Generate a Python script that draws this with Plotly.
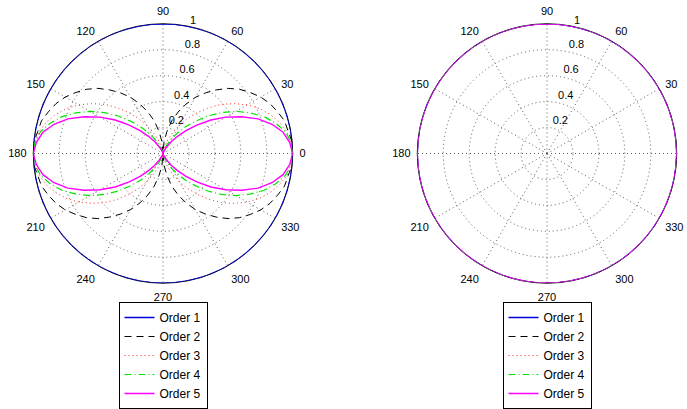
import copy
import plotly.graph_objects as go

# Radius of each pattern over one quadrant, every 5 degrees from 0 to 90.
QUADRANT_DEG = [0, 5, 10, 15, 20, 25, 30, 35, 40, 45, 50, 55, 60, 65, 70, 75, 80, 85, 90]

LEFT_ORDER1 = [1.00] * 19
LEFT_ORDER2 = [1.00, 1.00, 0.98, 0.97, 0.94, 0.91, 0.87, 0.82, 0.77, 0.71,
               0.64, 0.57, 0.50, 0.42, 0.34, 0.26, 0.17, 0.09, 0.00]
LEFT_ORDER3 = [1.00, 0.99, 0.97, 0.93, 0.88, 0.82, 0.75, 0.67, 0.59, 0.50,
               0.41, 0.33, 0.25, 0.18, 0.12, 0.07, 0.03, 0.01, 0.00]
LEFT_ORDER4 = [1.00, 0.99, 0.96, 0.90, 0.83, 0.74, 0.65, 0.55, 0.45, 0.35,
               0.27, 0.19, 0.13, 0.08, 0.04, 0.02, 0.01, 0.00, 0.00]
LEFT_ORDER5 = [1.00, 0.98, 0.94, 0.87, 0.78, 0.67, 0.56, 0.45, 0.34, 0.25,
               0.17, 0.11, 0.06, 0.03, 0.01, 0.00, 0.00, 0.00, 0.00]

RIGHT_ORDER1 = [1.00] * 19
RIGHT_ORDER2 = [1.00] * 19
RIGHT_ORDER3 = [1.00] * 19
RIGHT_ORDER4 = [1.00] * 19
RIGHT_ORDER5 = [1.00] * 19

SERIES_NAMES = ["Order 1", "Order 2", "Order 3", "Order 4", "Order 5"]

ANGLE_TICKS = [0, 30, 60, 90, 120, 150, 180, 210, 240, 270, 300, 330]
ANGLE_LABELS = ["0", "30", "60", "90", "120", "150", "180", "210", "240", "270", "300", "330"]
# the right panel's "0" falls beyond the figure edge
ANGLE_LABELS_RIGHT = [""] + ANGLE_LABELS[1:]
RADIUS_TICKS = [0.2, 0.4, 0.6, 0.8, 1.0]
RADIUS_LABELS = ["0.2", "0.4", "0.6", "0.8", "1"]

STYLES = [
    dict(color="rgb(0,0,220)", width=1.5, dash="solid"),
    dict(color="black", width=1, dash="7px,5px"),
    dict(color="rgb(255,40,40)", width=1, dash="1px,3px"),
    dict(color="rgb(0,230,0)", width=1.2, dash="7px,3px,1px,3px"),
    dict(color="rgb(255,0,255)", width=1.4, dash="solid"),
]

FONT = "Liberation Sans, Arial, Helvetica, sans-serif"


def full_circle(q):
    """Extend a symmetric quadrant pattern to the whole circle."""
    rev = q[::-1]
    return q + rev[1:] + q[1:] + rev[1:]


theta_full = list(range(0, 361, 5))

fig = go.Figure()

panels = [
    ("polar", "legend", [LEFT_ORDER1, LEFT_ORDER2, LEFT_ORDER3, LEFT_ORDER4, LEFT_ORDER5]),
    ("polar2", "legend2", [RIGHT_ORDER1, RIGHT_ORDER2, RIGHT_ORDER3, RIGHT_ORDER4, RIGHT_ORDER5]),
]

for subplot, legend_name, series in panels:
    for name, q, style in zip(SERIES_NAMES, series, STYLES):
        fig.add_trace(go.Scatterpolar(
            r=full_circle(q), theta=theta_full, mode="lines", name=name,
            line=style, subplot=subplot, legend=legend_name,
            cliponaxis=False, hoverinfo="skip",
        ))
    # radius labels beside the spoke near 80 degrees
    fig.add_trace(go.Scatterpolar(
        r=[min(v + 0.01, 1.0) for v in RADIUS_TICKS], theta=[78] * len(RADIUS_TICKS),
        mode="text", text=RADIUS_LABELS, textposition="top right",
        textfont=dict(family=FONT, size=11, color="black"),
        subplot=subplot, showlegend=False, cliponaxis=False, hoverinfo="skip",
    ))

polar_common = dict(
    bgcolor="white",
    radialaxis=dict(
        range=[0, 1], tickvals=RADIUS_TICKS[:-1], showticklabels=False, ticks="",
        showline=False, gridcolor="rgb(90,90,90)", griddash="1px,3px", gridwidth=1,
        layer="below traces",
    ),
    angularaxis=dict(
        tickvals=ANGLE_TICKS, ticktext=ANGLE_LABELS, showticklabels=True,
        ticks="outside", ticklen=4, tickcolor="rgba(0,0,0,0)",
        tickfont=dict(family=FONT, size=11, color="black"),
        showline=True, linecolor="black", linewidth=1,
        gridcolor="rgb(90,90,90)", griddash="1px,3px", gridwidth=1,
        rotation=0, direction="counterclockwise", layer="below traces",
    ),
)
polar_right = copy.deepcopy(polar_common)
polar_right["angularaxis"]["ticktext"] = ANGLE_LABELS_RIGHT

legend_common = dict(
    bgcolor="white", bordercolor="black", borderwidth=1,
    font=dict(family=FONT, size=12, color="black"),
    xanchor="center", yanchor="top", y=(409 - 305) / 409,
    itemclick=False, itemdoubleclick=False,
)

fig.update_layout(
    width=687, height=409,
    margin=dict(l=0, r=0, t=0, b=0),
    paper_bgcolor="white",
    font=dict(family=FONT, color="black"),
    polar=dict(domain=dict(x=[32 / 687, 294 / 687], y=[1 - 286 / 409, 1 - 24 / 409]), **polar_common),
    polar2=dict(domain=dict(x=[416 / 687, 678 / 687], y=[1 - 286 / 409, 1 - 24 / 409]), **polar_right),
    legend=dict(x=163 / 687, **legend_common),
    legend2=dict(x=547 / 687, **legend_common),
    showlegend=True,
)

fig.write_html("out.html")
